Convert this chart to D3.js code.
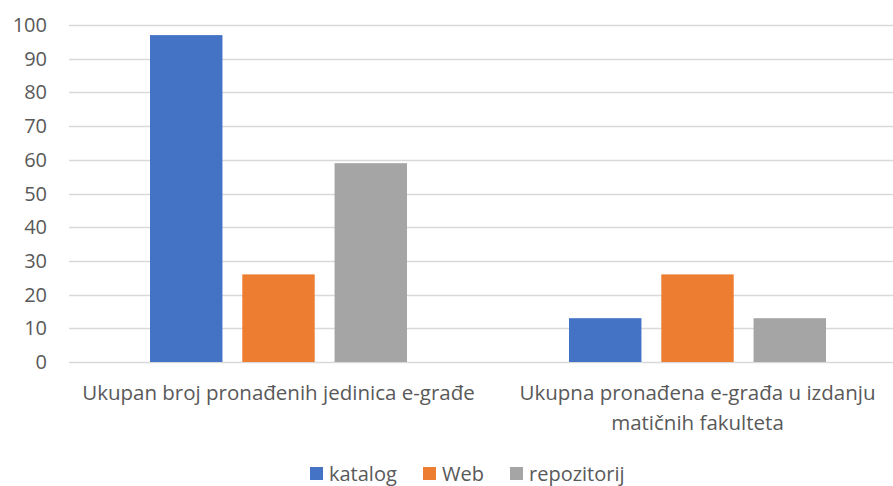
<!DOCTYPE html>
<html>
<head>
<meta charset="utf-8">
<script src="https://cdn.jsdelivr.net/npm/d3@7"></script>
<style>
  body { margin: 0; background: #fff; }
  svg { font-family: "Open Sans", "Noto Sans", sans-serif; }
</style>
</head>
<body>
<svg width="893" height="486"></svg>
<script>
var categories = ["Ukupan broj pronađenih jedinica e-građe", "Ukupna pronađena e-građa u izdanju matičnih fakulteta"];
var categoryLines = [["Ukupan broj pronađenih jedinica e-građe"], ["Ukupna pronađena e-građa u izdanju", "matičnih fakulteta"]];
var seriesNames = ["katalog", "Web", "repozitorij"];
var katalog = [97, 13];
var web = [26, 26];
var repozitorij = [59, 13];
var yTicks = [0, 10, 20, 30, 40, 50, 60, 70, 80, 90, 100];
var colors = ["#4472c4", "#ed7d31", "#a5a5a5"];

var seriesValues = [katalog, web, repozitorij];

var svg = d3.select("svg");
var plotLeft = 69, plotRight = 907, plotTop = 25, plotBottom = 362;
var fontSize = 20;

var x = d3.scaleBand()
  .domain(categories)
  .range([plotLeft, plotRight]);

var inner = d3.scaleBand()
  .domain(seriesNames)
  .range([0, 257])
  .paddingInner(0.215);

var y = d3.scaleLinear()
  .domain([0, 100])
  .range([plotBottom, plotTop]);

// gridlines
svg.append("g")
  .attr("class", "grid")
  .selectAll("line")
  .data(yTicks)
  .enter().append("line")
  .attr("x1", plotLeft)
  .attr("x2", 893)
  .attr("y1", function(d) { return Math.round(y(d)) + 0.5; })
  .attr("y2", function(d) { return Math.round(y(d)) + 0.5; })
  .attr("stroke", "#d9d9d9")
  .attr("stroke-width", 1.3);

// y labels
svg.append("g")
  .selectAll("text")
  .data(yTicks)
  .enter().append("text")
  .attr("x", 47)
  .attr("y", function(d) { return y(d); })
  .attr("dy", "0.35em")
  .attr("text-anchor", "end")
  .attr("fill", "#595959")
  .attr("font-size", fontSize)
  .text(function(d) { return d; });

// bars
var groups = svg.append("g").attr("class", "bars")
  .selectAll("g")
  .data(categories)
  .enter().append("g")
  .attr("transform", function(d) {
    return "translate(" + (x(d) + x.bandwidth() / 2 - 128.5) + ",0)";
  });

groups.selectAll("rect")
  .data(function(d, i) {
    return seriesNames.map(function(s, j) { return { s: s, v: seriesValues[j][i], c: colors[j] }; });
  })
  .enter().append("rect")
  .attr("x", function(d) { return inner(d.s); })
  .attr("width", inner.bandwidth())
  .attr("y", function(d) { return y(d.v); })
  .attr("height", function(d) { return plotBottom - y(d.v); })
  .attr("fill", function(d) { return d.c; });

// x labels
svg.append("g")
  .selectAll("text")
  .data(categories)
  .enter().append("text")
  .attr("x", function(d) { return x(d) + x.bandwidth() / 2; })
  .attr("y", 400)
  .attr("text-anchor", "middle")
  .attr("fill", "#595959")
  .attr("font-size", 20.5)
  .each(function(d, i) {
    var t = d3.select(this);
    categoryLines[i].forEach(function(line, k) {
      t.append("tspan")
        .attr("x", x(d) + x.bandwidth() / 2)
        .attr("dy", k === 0 ? 0 : 30)
        .text(line);
    });
  });

// legend
var legendX = [310, 423, 510];
var legend = svg.append("g").attr("class", "legend")
  .selectAll("g")
  .data(seriesNames)
  .enter().append("g")
  .attr("transform", function(d, i) { return "translate(" + legendX[i] + ",467)"; });

legend.append("rect")
  .attr("width", 13)
  .attr("height", 13)
  .attr("fill", function(d, i) { return colors[i]; });

legend.append("text")
  .attr("x", 19)
  .attr("y", 7)
  .attr("dy", "0.35em")
  .attr("fill", "#595959")
  .attr("font-size", fontSize)
  .text(function(d) { return d; });
</script>
</body>
</html>
